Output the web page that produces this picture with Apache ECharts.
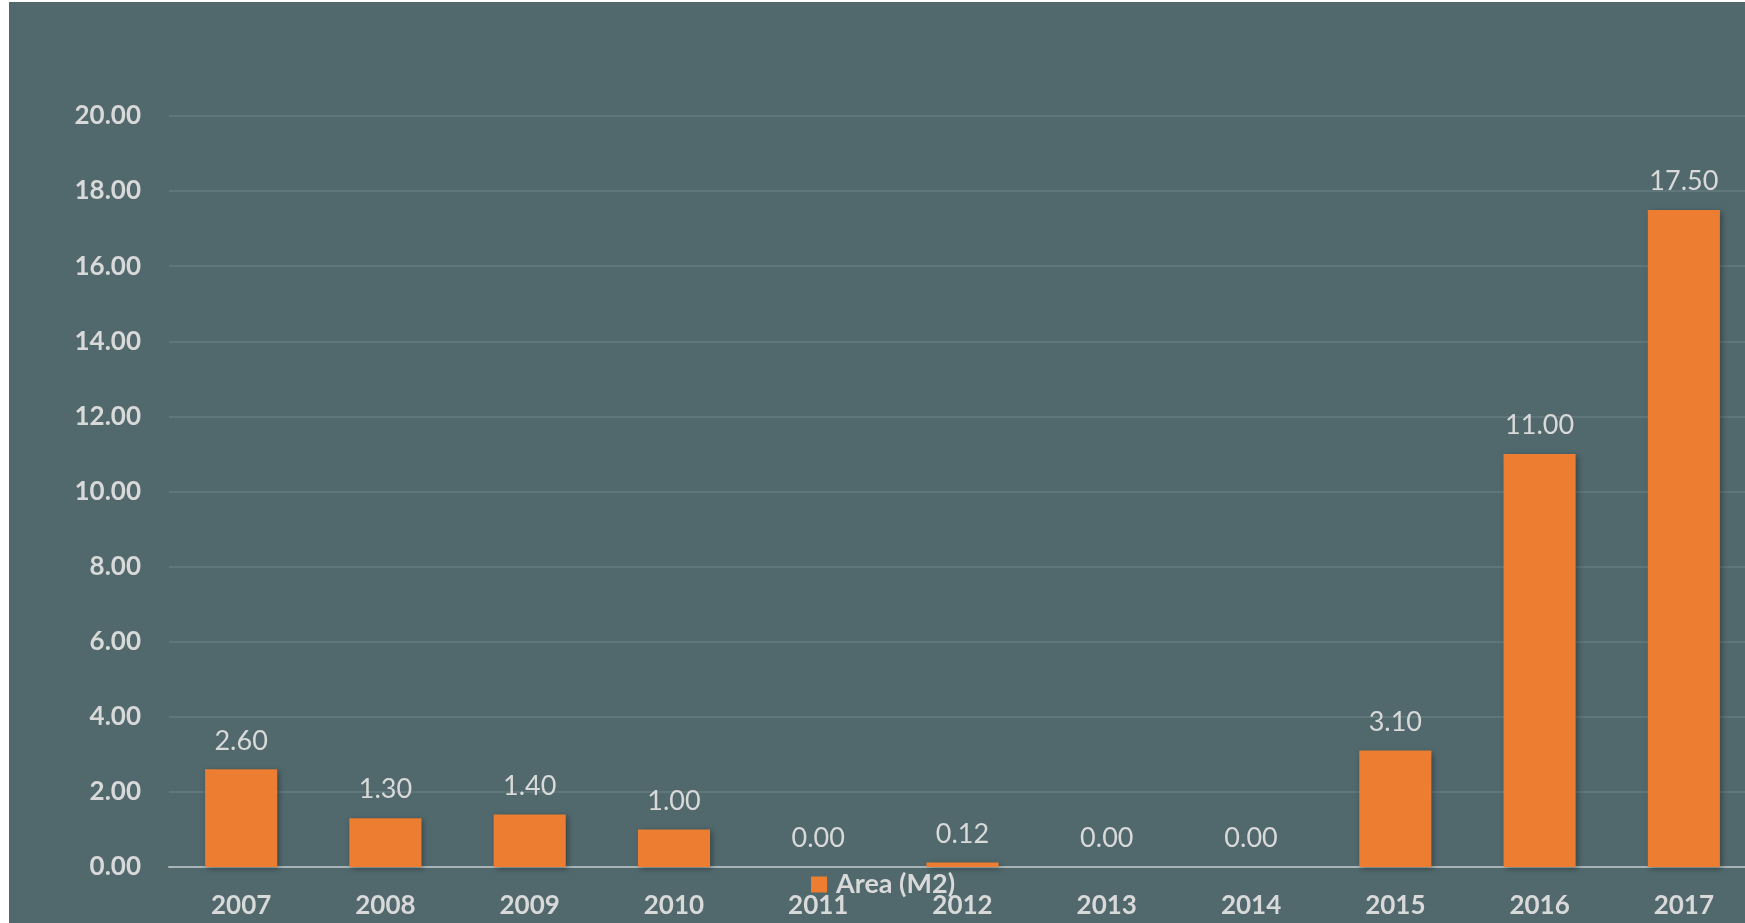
<!DOCTYPE html>
<html>
<head>
<meta charset="utf-8">
<script src="https://cdn.jsdelivr.net/npm/echarts@6/dist/echarts.min.js"></script>
<style>
  html, body { margin: 0; padding: 0; background: #ffffff; }
  #area_chart { position: absolute; left: 9px; top: 2px; width: 1736px; height: 921px; }
</style>
</head>
<body>
<div id="area_chart"></div>
<script>
var years = ['2007', '2008', '2009', '2010', '2011', '2012', '2013', '2014', '2015', '2016', '2017'];
var areaValues = [2.6, 1.3, 1.4, 1.0, 0, 0.12, 0, 0, 3.1, 11.0, 17.5];
var seriesName = 'Area (M2)';

var chartInstance = echarts.init(document.getElementById('area_chart'));

var labelFont = 'Lato, "Open Sans", sans-serif';

var initOption = {
  backgroundColor: '#51696d',
  animation: false,
  grid: {
    left: 160,
    width: 1587,
    top: 114,
    bottom: 56,
    outerBoundsMode: 'none'
  },
  legend: {
    data: [seriesName],
    left: 802,
    top: 869,
    padding: 0,
    itemWidth: 16,
    itemHeight: 16,
    icon: 'rect',
    textStyle: {
      color: '#d9d9d9',
      fontSize: 27,
      fontWeight: 'bold',
      fontFamily: labelFont,
      padding: [0, 0, 0, 4]
    }
  },
  xAxis: {
    type: 'category',
    data: years,
    axisLine: {
      lineStyle: { color: '#a8b4b6', width: 2 }
    },
    axisTick: { show: false },
    axisLabel: {
      color: '#d9d9d9',
      fontSize: 26,
      fontWeight: 'bold',
      fontFamily: labelFont,
      margin: 26
    }
  },
  yAxis: {
    type: 'value',
    min: 0,
    max: 20,
    interval: 2,
    axisLine: { show: false },
    axisTick: { show: false },
    splitLine: {
      lineStyle: { color: '#5f777b', width: 2 }
    },
    axisLabel: {
      color: '#d9d9d9',
      fontSize: 26,
      fontWeight: 'bold',
      fontFamily: labelFont,
      margin: 28,
      formatter: function (v) { return v.toFixed(2); }
    }
  },
  series: [{
    name: seriesName,
    type: 'bar',
    data: areaValues,
    barWidth: '50%',
    itemStyle: {
      color: '#ed7d31',
      shadowColor: 'rgba(0, 0, 0, 0.35)',
      shadowBlur: 6,
      shadowOffsetX: 2,
      shadowOffsetY: 2
    },
    label: {
      show: true,
      position: 'top',
      distance: 15,
      color: '#d9d9d9',
      fontSize: 27,
      fontFamily: labelFont,
      formatter: function (p) { return p.value.toFixed(2); }
    }
  }]
};
initOption && chartInstance.setOption(initOption);
</script>
</body>
</html>
